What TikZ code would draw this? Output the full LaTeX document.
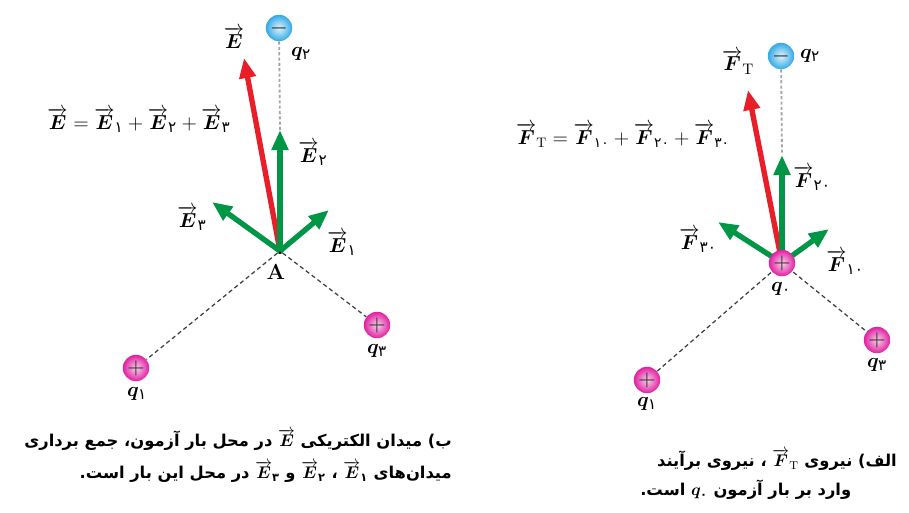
\documentclass[tikz,border=0pt]{standalone}
\usepackage{amsmath,bm}
\usepackage{fontspec}
\newfontfamily\arabicfont[Script=Arabic]{DejaVu Sans}
\TeXXeTstate=1
\definecolor{chargepink}{RGB}{225,30,160}
\definecolor{chargeblue}{RGB}{50,170,230}
\definecolor{vecgreen}{RGB}{0,150,70}
\definecolor{vecred}{RGB}{232,30,40}
\usetikzlibrary{arrows.meta}
\newcommand{\fadig}[1]{\text{\arabicfont #1}}
\newcommand{\vE}{\overrightarrow{\bm E}}
\newcommand{\vF}{\overrightarrow{\bm F}}

\begin{document}
\begin{tikzpicture}[x=0.025cm, y=-0.025cm,
		poscharge/.style={circle, inner sep=0pt, minimum size=0.66cm, shading=radial,
			inner color=chargepink!20!white, outer color=chargepink,
			text=black!75, font=\fontsize{14}{14}\selectfont},
		negcharge/.style={circle, inner sep=0pt, minimum size=0.66cm, shading=radial,
			inner color=chargeblue!15!white, outer color=chargeblue,
			text=black!75, font=\fontsize{14}{14}\selectfont},
		vecarrow/.style={-{Triangle[length=0.5cm,width=0.4cm]}, line width=3.8pt, vecgreen},
		netarrow/.style={-{Triangle[length=0.5cm,width=0.4cm]}, line width=3.8pt, vecred},
		dashline/.style={black!75, line width=0.9pt, dash pattern=on 3pt off 2.2pt},
		guide/.style={black!35, line width=1.3pt, dash pattern=on 2.2pt off 1.6pt},
		lbl/.style={font=\fontsize{15.5}{17}\selectfont, inner sep=1pt},
		captext/.style={font=\arabicfont\bfseries\fontsize{11.6}{14}\selectfont, inner sep=0pt}
	]
	\useasboundingbox (0,0) rectangle (909,513);

	% ---- left: electric field at A
	\node[circle, fill=black, inner sep=0pt, minimum size=0.15cm] (A) at (280,251) {};
	\coordinate (etip) at (244,58);
	\coordinate (e2tip) at (280,130);
	\coordinate (e3tip) at (212,202);
	\coordinate (e1tip) at (329,210);
	\node[negcharge] (qb2) at (279,28) {$\bm{-}$};
	\node[poscharge] (qb1) at (136,368) {$\bm{+}$};
	\node[poscharge] (qb3) at (377,325) {$\bm{+}$};
	\draw[guide] (qb2) -- (e2tip);
	\draw[dashline] (A) -- (qb1);
	\draw[dashline] (A) -- (qb3);
	\draw[netarrow] (A.center) -- (etip);
	\draw[vecarrow] (A.center) -- (e2tip);
	\draw[vecarrow] (A.center) -- (e3tip);
	\draw[vecarrow] (A.center) -- (e1tip);
	\node[lbl] (le) at (234,38) {$\vE$};
	\node[lbl] (le2) at (313,153) {$\vE_{\fadig{۲}}$};
	\node[lbl] (le3) at (192,218) {$\vE_{\fadig{۳}}$};
	\node[lbl] (le1) at (342,243) {$\vE_{\fadig{۱}}$};
	\node[lbl] (la) at (276,272) {\textbf{A}};
	\node[lbl] (lqb2) at (301,54) {$\bm q_{\fadig{۲}}$};
	\node[lbl] (lqb1) at (137,394) {$\bm q_{\fadig{۱}}$};
	\node[lbl] (lqb3) at (377,351) {$\bm q_{\fadig{۳}}$};
	\node[lbl] (esum) at (139,120)
		{$\vE = \vE_{\fadig{۱}} + \vE_{\fadig{۲}} + \vE_{\fadig{۳}}$};

	% ---- right: force on test charge q0
	\coordinate (c0) at (782,263);
	\coordinate (ftip) at (748,90);
	\coordinate (f2tip) at (782,155);
	\coordinate (f3tip) at (718,222);
	\coordinate (f1tip) at (829,229);
	\node[negcharge] (qa2) at (781,56) {$\bm{-}$};
	\node[poscharge] (qa1) at (647,380) {$\bm{+}$};
	\node[poscharge] (qa3) at (877,340) {$\bm{+}$};
	\draw[guide] (qa2) -- (f2tip);
	\draw[dashline] (c0) -- (qa1);
	\draw[dashline] (c0) -- (qa3);
	\draw[netarrow] (c0) -- (ftip);
	\draw[vecarrow] (c0) -- (f2tip);
	\draw[vecarrow] (c0) -- (f3tip);
	\draw[vecarrow] (c0) -- (f1tip);
	\node[poscharge] (qa0) at (c0) {$\bm{+}$};
	\node[lbl] (lf) at (738,62) {$\vF_{\mathrm{T}}$};
	\node[lbl] (lf2) at (812,178) {$\vF_{\fadig{۲۰}}$};
	\node[lbl] (lf3) at (698,240) {$\vF_{\fadig{۳۰}}$};
	\node[lbl] (lf1) at (845,262) {$\vF_{\fadig{۱۰}}$};
	\node[lbl] (lqa0) at (781,289) {$\bm q_{\fadig{۰}}$};
	\node[lbl] (lqa2) at (810,56) {$\bm q_{\fadig{۲}}$};
	\node[lbl] (lqa1) at (647,404) {$\bm q_{\fadig{۱}}$};
	\node[lbl] (lqa3) at (877,365) {$\bm q_{\fadig{۳}}$};
	\node[lbl, font=\fontsize{14}{16}\selectfont] (fsum) at (623,135)
		{$\vF_{\mathrm{T}} = \vF_{\fadig{۱۰}} + \vF_{\fadig{۲۰}} + \vF_{\fadig{۳۰}}$};

	% ---- captions
	\node[captext, anchor=east] (capb1) at (452,440)
		{\beginR ب) میدان الکتریکی $\vE$ در محل بار آزمون، جمع برداری\endR};
	\node[captext, anchor=east] (capb2) at (452,472)
		{\beginR میدان‌های $\vE_{\fadig{۱}}$ ، $\vE_{\fadig{۲}}$ و $\vE_{\fadig{۳}}$ در محل این بار است.\endR};
	\node[captext, anchor=east] (capa1) at (897,460)
		{\beginR الف) نیروی $\vF_{\mathrm{T}}$ ، نیروی برآیند\endR};
	\node[captext, anchor=west] (capa2) at (640,490)
		{\beginR وارد بر بار آزمون $\bm q_{\fadig{۰}}$ است.\endR};
\end{tikzpicture}
\end{document}
